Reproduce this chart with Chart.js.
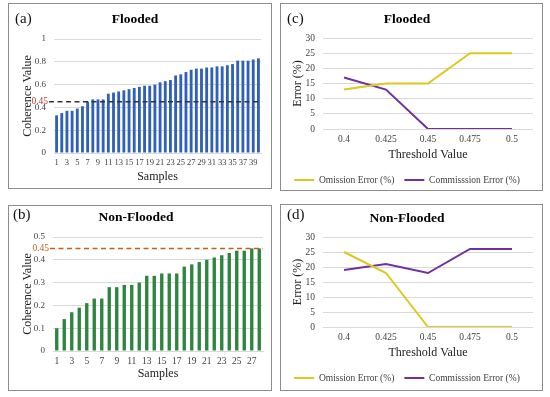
<!DOCTYPE html>
<html>
<head>
<meta charset="utf-8">
<title>Coherence threshold charts</title>
<script src="https://cdn.jsdelivr.net/npm/chart.js@4"></script>
<style>
  body { margin: 0; background: #fff; }
  #page { position: relative; width: 550px; height: 397px; overflow: hidden; font-family: 'Liberation Serif', 'Times New Roman', serif; }
  .panel { position: absolute; border: 1px solid #8c8c8c; }
  .panel canvas { position: absolute; left: 0; top: 0; }
  .tag { position: absolute; font-size: 15px; line-height: 17px; color: #111; }
</style>
</head>
<body>
<div id="page">
  <div class="panel" style="left:8px; top:3px; width:262px; height:184px;"><canvas id="chartA" width="262" height="184"></canvas></div>
  <div class="panel" style="left:8px; top:205px; width:262px; height:184px;"><canvas id="chartB" width="262" height="184"></canvas></div>
  <div class="panel" style="left:280px; top:3px; width:261px; height:186px;"><canvas id="chartC" width="261" height="186"></canvas></div>
  <div class="panel" style="left:280px; top:204px; width:261px; height:185px;"><canvas id="chartD" width="261" height="185"></canvas></div>
  <div class="tag" style="left:15px; top:10px;">(a)</div>
  <div class="tag" style="left:13px; top:206px;">(b)</div>
  <div class="tag" style="left:287px; top:10px;">(c)</div>
  <div class="tag" style="left:287px; top:206px;">(d)</div>
</div>
<script>
// Coherence value of each sample
const floodedSamples = ['1','2','3','4','5','6','7','8','9','10','11','12','13','14','15','16','17','18','19','20',
                        '21','22','23','24','25','26','27','28','29','30','31','32','33','34','35','36','37','38','39','40'];
const floodedCoherence = [0.33, 0.35, 0.37, 0.37, 0.39, 0.41, 0.45, 0.47, 0.47, 0.47,
                          0.52, 0.53, 0.54, 0.55, 0.56, 0.57, 0.58, 0.59, 0.59, 0.60,
                          0.62, 0.63, 0.64, 0.68, 0.69, 0.71, 0.73, 0.74, 0.74, 0.75,
                          0.75, 0.76, 0.76, 0.77, 0.78, 0.81, 0.81, 0.81, 0.82, 0.83];
const nonFloodedSamples = ['1','2','3','4','5','6','7','8','9','10','11','12','13','14',
                           '15','16','17','18','19','20','21','22','23','24','25','26','27','28'];
const nonFloodedCoherence = [0.10, 0.14, 0.17, 0.19, 0.21, 0.23, 0.23, 0.28, 0.28, 0.29,
                             0.29, 0.30, 0.33, 0.33, 0.34, 0.34, 0.34, 0.37, 0.38, 0.39,
                             0.40, 0.41, 0.42, 0.43, 0.44, 0.44, 0.45, 0.45];
const coherenceThreshold = 0.45;

// Errors for each threshold
const thresholdValues = ['0.4', '0.425', '0.45', '0.475', '0.5'];
const floodedOmission = [13, 15, 15, 25, 25];
const floodedCommission = [17, 13, 0, 0, 0];
const nonFloodedOmission = [25, 18, 0, 0, 0];
const nonFloodedCommission = [19, 21, 18, 26, 26];

Chart.defaults.font.family = "'Liberation Serif', 'Times New Roman', serif";
Chart.defaults.color = '#404040';

// dashed threshold line with its value at the left
const thresholdLine = {
    id: 'thresholdLine',
    afterDatasetsDraw(chart, args, opts) {
        const { ctx, chartArea, scales } = chart;
        const y = scales.y.getPixelForValue(opts.value);
        const x0 = chartArea.left - opts.lead;
        ctx.save();
        ctx.strokeStyle = opts.color;
        ctx.lineWidth = 1.5;
        ctx.setLineDash([5, 3.5]);
        ctx.beginPath();
        ctx.moveTo(x0, y);
        ctx.lineTo(chartArea.right, y);
        ctx.stroke();
        ctx.setLineDash([]);
        ctx.fillStyle = opts.labelColor;
        ctx.font = "9.5px 'Liberation Serif'";
        ctx.textAlign = 'right';
        ctx.textBaseline = 'middle';
        ctx.fillText(String(opts.value), x0 - 1, y);
        ctx.restore();
    }
};

function barChart(id, title, labels, values, color, yMax, yStep, lineColor, labelColor, g) {
    new Chart(document.getElementById(id), {
        type: 'bar',
        data: {
            labels: labels,
            datasets: [{
                data: values,
                backgroundColor: color,
                barPercentage: g.bar,
                categoryPercentage: 1
            }]
        },
        options: {
            responsive: false,
            animation: false,
            layout: { padding: { left: 0, right: g.right, top: 0, bottom: 0 } },
            plugins: {
                legend: { display: false },
                tooltip: { enabled: false },
                title: {
                    display: true, text: title, color: '#000',
                    font: { size: 13.5, weight: 'bold' },
                    padding: { top: g.titleTop, bottom: g.titleBottom }
                },
                thresholdLine: { value: coherenceThreshold, color: lineColor, labelColor: labelColor, lead: g.lead }
            },
            scales: {
                x: {
                    grid: { display: false, drawTicks: false },
                    border: { color: '#d9d9d9' },
                    ticks: {
                        autoSkip: false, maxRotation: 0, padding: 4.5, font: { size: g.xFont },
                        callback(v, i) { return i % 2 === 0 ? this.getLabelForValue(v) : ''; }
                    },
                    title: { display: true, text: 'Samples', color: '#222', font: { size: 12 }, padding: { top: 0, bottom: g.xTitlePad } },
                    afterFit(s) { s.height = g.xHeight; }
                },
                y: {
                    min: 0, max: yMax,
                    border: { display: false },
                    grid: { color: '#d9d9d9', drawTicks: false },
                    ticks: {
                        stepSize: yStep, padding: 8, font: { size: 9 },
                        callback(v) { return String(Number(v.toFixed(2))); }
                    },
                    title: { display: true, text: 'Coherence Value', color: '#222', font: { size: 12 }, padding: { top: g.yTitlePad, bottom: 0 } },
                    afterFit(s) { s.width = g.yWidth; }
                }
            }
        },
        plugins: [thresholdLine]
    });
}

function lineChart(id, title, omission, commission, g) {
    new Chart(document.getElementById(id), {
        type: 'line',
        data: {
            labels: thresholdValues,
            datasets: [
                { label: 'Omission Error (%)', data: omission, borderColor: '#dcc81e', backgroundColor: '#dcc81e', borderWidth: 2, pointRadius: 0 },
                { label: 'Commisssion Error (%)', data: commission, borderColor: '#7030a0', backgroundColor: '#7030a0', borderWidth: 2, pointRadius: 0 }
            ]
        },
        options: {
            responsive: false,
            animation: false,
            layout: { padding: { left: 0, right: g.right, top: 0, bottom: g.bottom } },
            plugins: {
                tooltip: { enabled: false },
                title: {
                    display: true, text: title, color: '#000',
                    font: { size: 13.5, weight: 'bold' },
                    padding: { top: g.titleTop, bottom: g.titleBottom }
                },
                legend: {
                    position: 'bottom',
                    maxHeight: 20,
                    labels: {
                        usePointStyle: true, pointStyle: 'line', pointStyleWidth: 20,
                        padding: 10, font: { size: 9.5 }
                    }
                }
            },
            scales: {
                x: {
                    offset: true,
                    grid: { display: false, drawTicks: false },
                    border: { display: false },
                    ticks: { maxRotation: 0, padding: 5, font: { size: 9.5 } },
                    title: { display: true, text: 'Threshold Value', color: '#222', font: { size: 12 }, padding: { top: 0, bottom: 3.5 } },
                    afterFit(s) { s.height = 36.25; }
                },
                y: {
                    min: 0, max: 30,
                    border: { display: false },
                    grid: { color: '#d9d9d9', drawTicks: false },
                    ticks: { stepSize: 5, padding: 8, font: { size: 9.5 } },
                    title: { display: true, text: 'Error (%)', color: '#222', font: { size: 12 }, padding: { top: 9.8, bottom: 0 } },
                    afterFit(s) { s.width = 42; }
                }
            }
        }
    });
}

barChart('chartA', 'Flooded', floodedSamples, floodedCoherence, '#3060b8', 1, 0.2, '#333333', '#c0392b',
    { bar: 0.55, right: 10, titleTop: 7.7, titleBottom: 11.1, xHeight: 35, xTitlePad: 3.8, xFont: 8.5, yWidth: 45, yTitlePad: 11.8, lead: 5 });
barChart('chartB', 'Non-Flooded', nonFloodedSamples, nonFloodedCoherence, '#2e8540', 0.5, 0.1, '#c0601a', '#c0601a',
    { bar: 0.45, right: 8, titleTop: 3.9, titleBottom: 10.9, xHeight: 39, xTitlePad: 8.8, xFont: 9.5, yWidth: 44, yTitlePad: 11.8, lead: 3 });
lineChart('chartC', 'Flooded', floodedOmission, floodedCommission,
    { right: 9, bottom: 4.75, titleTop: 7.9, titleBottom: 9.9 });
lineChart('chartD', 'Non-Flooded', nonFloodedOmission, nonFloodedCommission,
    { right: 9, bottom: 6.75, titleTop: 5.9, titleBottom: 9.9 });
</script>
</body>
</html>
